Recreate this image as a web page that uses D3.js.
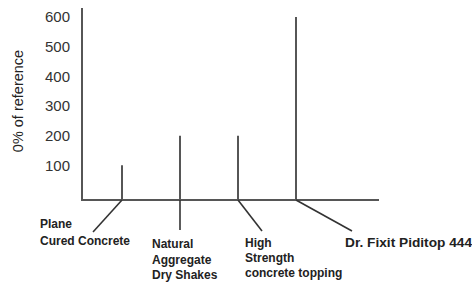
<!DOCTYPE html>
<html>
<head>
<meta charset="utf-8">
<script src="https://cdn.jsdelivr.net/npm/d3@7"></script>
<style>
  body { margin: 0; background: #fff; }
  svg { display: block; font-family: "Liberation Sans", Arial, sans-serif; }
</style>
</head>
<body>
<div id="chart"></div>
<script>
const categories = ["Plane Cured Concrete", "Natural Aggregate Dry Shakes", "High Strength concrete topping", "Dr. Fixit Piditop 444"];
const labelLines = [["Plane", "Cured Concrete"], ["Natural", "Aggregate", "Dry Shakes"], ["High", "Strength", "concrete topping"], ["Dr. Fixit Piditop 444"]];
const values = [100, 200, 200, 600];
const tickValues = [100, 200, 300, 400, 500, 600];
const yTitle = "0% of reference";

const width = 472, height = 283;
const axisX = 82, baseY = 200, axisTop = 8, axisRight = 379;

// leader line end offsets and label placement, relative to each bar foot
const layout = [
  { lx: -29, ly: 32, tx: -82, ty: 25, size: 12, lead: 17 },
  { lx: 0, ly: 30, tx: -28, ty: 45, size: 12, lead: 15.5 },
  { lx: 24, ly: 31, tx: 7, ty: 44, size: 12, lead: 15 },
  { lx: 56, ly: 31, tx: 49, ty: 43, size: 13.7, lead: 0 }
];

const x = d3.scalePoint()
  .domain(categories)
  .range([122, 296]);

const y = d3.scaleLinear()
  .domain([0, 600])
  .range([195, 17]);

const svg = d3.select("#chart")
  .append("svg")
  .attr("width", width)
  .attr("height", height);

const lineColor = "#565656";

// tick labels
const yAxis = svg.append("g")
  .attr("transform", `translate(${axisX},0)`)
  .call(d3.axisLeft(y).tickValues(tickValues).tickSize(0).tickPadding(12));
yAxis.select(".domain").remove();
yAxis.selectAll("text")
  .attr("font-size", 15)
  .attr("font-family", "'Liberation Sans', Arial, sans-serif")
  .attr("fill", "#333");

// axis lines
svg.append("line")
  .attr("x1", axisX).attr("x2", axisX)
  .attr("y1", axisTop).attr("y2", baseY)
  .attr("stroke", lineColor).attr("stroke-width", 2);
svg.append("line")
  .attr("x1", axisX - 1).attr("x2", axisRight)
  .attr("y1", baseY).attr("y2", baseY)
  .attr("stroke", lineColor).attr("stroke-width", 2);

// y title
svg.append("text")
  .attr("transform", `translate(23,101) rotate(-90)`)
  .attr("text-anchor", "middle")
  .attr("font-size", 14.5)
  .attr("fill", "#222")
  .text(yTitle);

// bars as vertical lines
svg.selectAll(".bar")
  .data(values)
  .enter()
  .append("line")
  .attr("class", "bar")
  .attr("x1", (d, i) => x(categories[i]))
  .attr("x2", (d, i) => x(categories[i]))
  .attr("y1", d => y(d))
  .attr("y2", baseY)
  .attr("stroke", lineColor)
  .attr("stroke-width", 2);

// leader lines
svg.selectAll(".leader")
  .data(categories)
  .enter()
  .append("line")
  .attr("class", "leader")
  .attr("x1", d => x(d))
  .attr("y1", baseY)
  .attr("x2", (d, i) => x(d) + layout[i].lx)
  .attr("y2", (d, i) => baseY + layout[i].ly)
  .attr("stroke", "#333")
  .attr("stroke-width", 1.6);

// category labels
const labels = svg.selectAll(".cat")
  .data(categories)
  .enter()
  .append("text")
  .attr("class", "cat")
  .attr("font-weight", "bold")
  .attr("font-size", (d, i) => layout[i].size)
  .attr("fill", "#222")
  .attr("dominant-baseline", "middle");

labels.each(function (d, i) {
  const t = d3.select(this);
  labelLines[i].forEach((line, j) => {
    t.append("tspan")
      .attr("x", x(d) + layout[i].tx)
      .attr("y", baseY + layout[i].ty + j * layout[i].lead)
      .text(line);
  });
});
</script>
</body>
</html>
